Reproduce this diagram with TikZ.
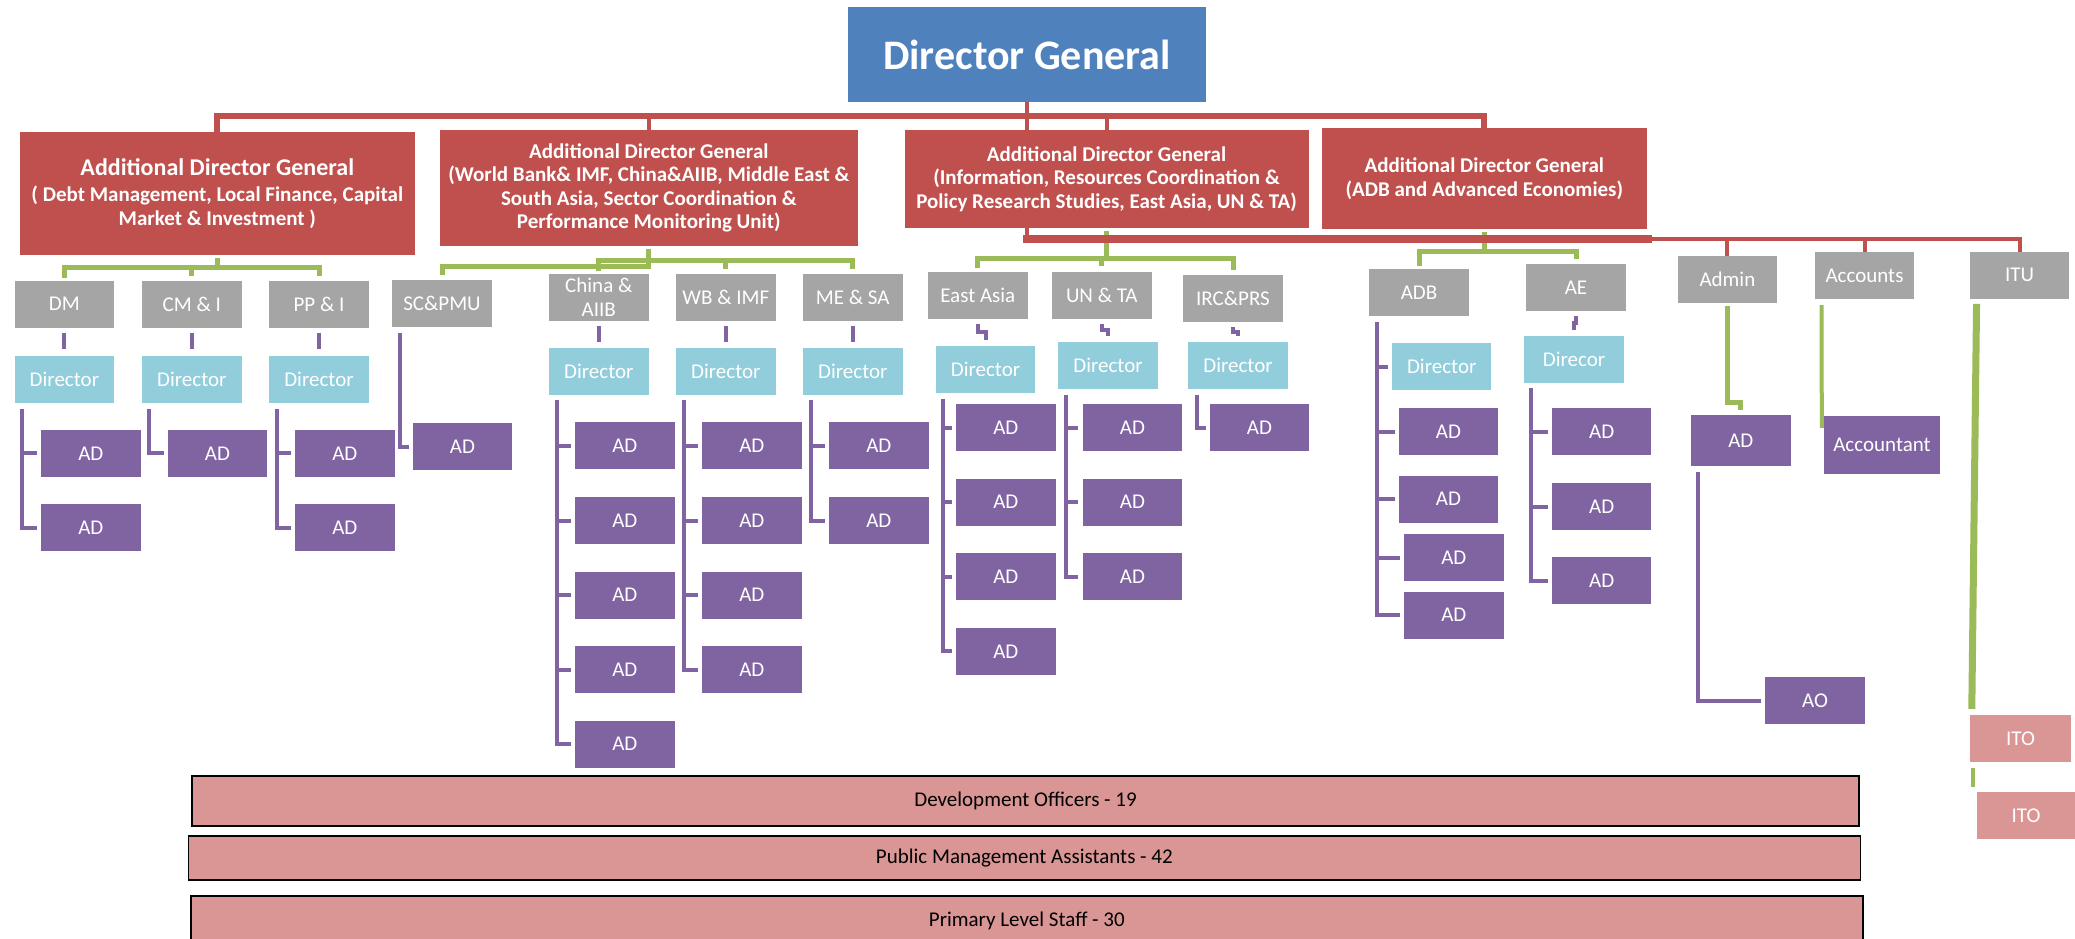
\documentclass[tikz,border=0pt]{standalone}
\usepackage{fontspec}
\setmainfont{Carlito}
\usetikzlibrary{calc,backgrounds}
\definecolor{dgblue}{HTML}{4F81BD}
\definecolor{adgred}{HTML}{C0504D}
\definecolor{ugray}{HTML}{A5A5A5}
\definecolor{dirblue}{HTML}{92CDDC}
\definecolor{adpurple}{HTML}{8064A2}
\definecolor{lgreen}{HTML}{9BBB59}
\definecolor{pinkred}{HTML}{D99694}
\newcommand\bracketdraw[4]{%
  \coordinate (tmpb) at ($(#1.south west)+(#2)$);
  \draw[pl, shorten >=4pt] (tmpb) |- (#4.west);
  \foreach \kid in {#3}{\draw[pl, shorten >=4pt] (tmpb |- \kid.west) -- (\kid.west);}
}
\begin{document}
\begin{tikzpicture}[x=1pt,y=-1pt,
  box/.style={rectangle, inner sep=0pt, minimum width=99.5pt, minimum height=47pt, text=white, font=\fontsize{21}{23.5}\selectfont, align=center},
  unitbox/.style={box, fill=ugray},
  dirbox/.style={box, fill=dirblue},
  adbox/.style={box, fill=adpurple},
  itobox/.style={box, fill=pinkred},
  adgbox/.style={rectangle, inner sep=0pt, fill=adgred, text=white, font=\fontsize{21}{23.5}\selectfont\bfseries, align=center},
  barbox/.style={rectangle, inner sep=0pt, fill=pinkred, draw=black, line width=1.5pt, text=black, font=\fontsize{21}{24}\selectfont},
  pl/.style={draw=adpurple, line width=4pt},
  pv/.style={pl, shorten <=5pt, shorten >=6pt},
  gl/.style={draw=lgreen, line width=5pt, shorten <=3pt, shorten >=5pt},
  rl/.style={draw=adgred, line width=4pt},
]
\useasboundingbox (0,0) rectangle (2075,938);

% ---- top
\node[fill=dgblue, inner sep=0pt, minimum width=358pt, minimum height=95pt, text=white, font=\fontsize{42}{50}\selectfont\bfseries] (DG) at (1027,54.5) {Director General};

\node[adgbox, minimum width=394.5pt, minimum height=123pt] (ADG1) at (217.3,193.5) {{\fontsize{24}{27}\selectfont Additional Director General}\\[3pt]( Debt Management, Local Finance, Capital\\Market \& Investment )};
\node[adgbox, minimum width=417.5pt, minimum height=116pt] (ADG2) at (648.8,188) {Additional Director General\\(World Bank\& IMF, China\&AIIB, Middle East \&\\South Asia, Sector Coordination \&\\Performance Monitoring Unit)};
\node[adgbox, minimum width=404pt, minimum height=98pt] (ADG3) at (1106.5,179) {Additional Director General\\(Information, Resources Coordination \&\\Policy Research Studies, East Asia, UN \& TA)};
\node[adgbox, minimum width=324.5pt, minimum height=101pt] (ADG4) at (1484.3,178.5) {Additional Director General\\(ADB and Advanced Economies)};

% ---- units
\node[unitbox] (DM) at (64.4,304.2) {DM};
\node[unitbox] (CM) at (191.8,304.2) {CM \& I};
\node[unitbox] (PP) at (319,304.2) {PP \& I};
\node[unitbox] (SC) at (442,303.5) {SC\&PMU};
\node[unitbox] (CH) at (598.8,297.2) {China \&\\AIIB};
\node[unitbox] (WB) at (725.8,297.2) {WB \& IMF};
\node[unitbox] (ME) at (852.8,297.2) {ME \& SA};
\node[unitbox] (EA) at (977.8,295.1) {East Asia};
\node[unitbox] (UN) at (1101.8,295.1) {UN \& TA};
\node[unitbox] (IRC) at (1233,298.5) {IRC\&PRS};
\node[unitbox] (ADB) at (1419,292.4) {ADB};
\node[unitbox] (AE) at (1576,287.5) {AE};
\node[unitbox] (ADM) at (1727.4,279.2) {Admin};
\node[unitbox] (ACC) at (1864.5,275.5) {Accounts};
\node[unitbox] (ITU) at (2019.5,275.2) {ITU};

% ---- directors
\node[dirbox] (DMD) at (64.4,379) {Director};
\node[dirbox] (CMD) at (191.8,379) {Director};
\node[dirbox] (PPD) at (319,379) {Director};
\node[dirbox] (CHD) at (598.8,371.4) {Director};
\node[dirbox] (WBD) at (725.8,371.4) {Director};
\node[dirbox] (MED) at (852.8,371.4) {Director};
\node[dirbox] (EAD) at (985.5,369.5) {Director};
\node[dirbox] (UND) at (1108,365.2) {Director};
\node[dirbox] (IRCD) at (1238,365.2) {Director};
\node[dirbox] (ADBD) at (1441.7,366.8) {Director};
\node[dirbox] (AED) at (1574,359.2) {Direcor};

% ---- ADs
\node[adbox] (DMA1) at (90.8,453.3) {AD};
\node[adbox] (DMA2) at (90.8,527.5) {AD};
\node[adbox] (CMA1) at (217.5,453.3) {AD};
\node[adbox] (PPA1) at (344.8,453.3) {AD};
\node[adbox] (PPA2) at (344.8,527.5) {AD};
\node[adbox] (SCA1) at (462.5,446.5) {AD};
\node[adbox] (CHA1) at (624.8,445.9) {AD};
\node[adbox] (CHA2) at (624.8,520.6) {AD};
\node[adbox] (CHA3) at (624.8,595.2) {AD};
\node[adbox] (CHA4) at (624.8,669.6) {AD};
\node[adbox] (CHA5) at (624.8,744.1) {AD};
\node[adbox] (WBA1) at (751.8,445.9) {AD};
\node[adbox] (WBA2) at (751.8,520.6) {AD};
\node[adbox] (WBA3) at (751.8,595.2) {AD};
\node[adbox] (WBA4) at (751.8,669.6) {AD};
\node[adbox] (MEA1) at (878.8,445.9) {AD};
\node[adbox] (MEA2) at (878.8,520.6) {AD};
\node[adbox] (EAA1) at (1005.8,427.8) {AD};
\node[adbox] (EAA2) at (1005.8,502.2) {AD};
\node[adbox] (EAA3) at (1005.8,576.7) {AD};
\node[adbox] (EAA4) at (1005.8,651.3) {AD};
\node[adbox] (UNA1) at (1132.4,427.8) {AD};
\node[adbox] (UNA2) at (1132.4,502.2) {AD};
\node[adbox] (UNA3) at (1132.4,576.7) {AD};
\node[adbox] (IRCA1) at (1259.5,427.8) {AD};
\node[adbox] (ADBA1) at (1448.5,431.8) {AD};
\node[adbox] (ADBA2) at (1448.5,499.2) {AD};
\node[adbox] (ADBA3) at (1453.8,557.5) {AD};
\node[adbox] (ADBA4) at (1453.8,615.2) {AD};
\node[adbox] (AEA1) at (1601.7,431.8) {AD};
\node[adbox] (AEA2) at (1601.7,506.5) {AD};
\node[adbox] (AEA3) at (1601.7,580.5) {AD};
\node[adbox, minimum height=51pt] (ADMA) at (1740.8,440.3) {AD};
\node[adbox] (AO) at (1815,700.5) {AO};
\node[adbox, minimum width=116pt, minimum height=58pt] (ACCT) at (1882,445) {Accountant};
\node[itobox, minimum width=101pt] (ITO1) at (2020.5,738.5) {ITO};
\node[itobox, minimum width=98pt] (ITO2) at (2026,815.4) {ITO};

% ---- bottom bars
\node[barbox, minimum width=1667pt, minimum height=50pt] (B1) at (1025.5,801) {Development Officers - 19};
\node[barbox, minimum width=1672pt, minimum height=44pt] (B2) at (1024.3,858) {Public Management Assistants - 42};
\node[barbox, minimum width=1672pt, minimum height=50pt] (B3) at (1026.8,921) {Primary Level Staff - 30};

\begin{pgfonlayer}{background}
\fill[white] (0,0) rectangle (2075,938);
% green
\coordinate (g1) at (0,267);
\draw[gl, shorten >=0pt] (ADG1.south) -- (ADG1.south |- g1);
\draw[gl] (DM.north) -- (DM.north |- g1) -- (PP.north |- g1) -- (PP.north);
\draw[gl, shorten <=0pt] (CM.north |- g1) -- (CM.north);
\coordinate (g2) at (0,260);
\coordinate (g2b) at (0,266);
\draw[gl] (ADG2.south) -- (ADG2.south |- g2b) -- (SC.north |- g2b) -- (SC.north);
\draw[gl] (CH.north) -- (CH.north |- g2) -- (ME.north |- g2) -- (ME.north);
\draw[gl, shorten <=0pt] (WB.north |- g2) -- (WB.north);
\coordinate (g3) at (0,258);
\draw[gl, shorten >=0pt] (ADG3.south) -- (ADG3.south |- g3);
\draw[gl] (EA.north) -- (EA.north |- g3) -- (IRC.north |- g3) -- (IRC.north);
\draw[gl, shorten <=0pt] (UN.north |- g3) -- (UN.north);
\coordinate (g4) at (0,251);
\draw[gl, shorten >=0pt] (ADG4.south) -- (ADG4.south |- g4);
\draw[gl] (ADB.north) -- (ADB.north |- g4) -- (AE.north |- g4) -- (AE.north);
\coordinate (g5) at (0,402);
\draw[gl] (ADM.south) -- (ADM.south |- g5) -| (ADMA.north);
\draw[gl, line width=4pt, shorten <=0pt, shorten >=0pt] ($(ACC.south west)+(7,6)$) -- ($(ACCT.north west)+(-2,12)$);
\draw[gl, line width=7pt, shorten <=0pt, shorten >=0pt] ($(ITU.south west)+(7,5)$) -- ($(ITO1.north west)+(2,-6)$);
\draw[gl, line width=4pt, shorten <=0pt, shorten >=0pt] ($(ITO1.south west)+(3,6)$) -- ($(ITO2.north west)+(-4,-5)$);
% red
\coordinate (bus1) at (0,116);
\coordinate (bus2) at (0,239);
\coordinate (b2end) at (1648,239);
\draw[rl] (DG.south) -- (DG.south |- bus2);
\draw[rl, line width=6pt] (ADG1.north) -- (ADG1.north |- bus1) -- (ADG4.north |- bus1) -- (ADG4.north);
\draw[rl] (ADG2.north) -- (ADG2.north |- bus1);
\draw[rl] (ADG3.north) -- (ADG3.north |- bus1);
\draw[rl, line width=8pt, line cap=rect] (DG.south |- bus2) -- (b2end);
\draw[rl] (b2end) -- (ITU.north |- bus2) -- (ITU.north);
\draw[rl] (ADM.north) -- (ADM.north |- bus2);
\draw[rl] (ACC.north) -- (ACC.north |- bus2);
% purple: unit to director
\draw[pv] (DM.south) -- (DMD.north);
\draw[pv] (CM.south) -- (CMD.north);
\draw[pv] (PP.south) -- (PPD.north);
\draw[pv] (CH.south) -- (CHD.north);
\draw[pv] (WB.south) -- (WBD.north);
\draw[pv] (ME.south) -- (MED.north);
\draw[pv] (EA.south) |- ($(EA.south)!.5!(EAD.north)$) -| (EAD.north);
\draw[pv] (UN.south) |- ($(UN.south)!.5!(UND.north)$) -| (UND.north);
\draw[pv] (IRC.south) |- ($(IRC.south)!.5!(IRCD.north)$) -| (IRCD.north);
\draw[pv] (AE.south) |- ($(AE.south)!.5!(AED.north)$) -| (AED.north);
% purple brackets
\bracketdraw{DMD}{8,6}{DMA1,DMA2}{DMA2}
\bracketdraw{CMD}{7.5,6}{CMA1}{CMA1}
\bracketdraw{PPD}{8,6}{PPA1,PPA2}{PPA2}
\bracketdraw{SC}{8,6}{SCA1}{SCA1}
\bracketdraw{CHD}{7.7,5}{CHA1,CHA2,CHA3,CHA4,CHA5}{CHA5}
\bracketdraw{WBD}{8,5}{WBA1,WBA2,WBA3,WBA4}{WBA4}
\bracketdraw{MED}{8,5}{MEA1,MEA2}{MEA2}
\bracketdraw{EAD}{7.5,6}{EAA1,EAA2,EAA3,EAA4}{EAA4}
\bracketdraw{UND}{8,6}{UNA1,UNA2,UNA3}{UNA3}
\bracketdraw{IRCD}{9,6}{IRCA1}{IRCA1}
\bracketdraw{ADB}{7.6,6}{ADBD,ADBA1,ADBA2,ADBA3,ADBA4}{ADBA4}
\bracketdraw{AED}{7,5}{AEA1,AEA2,AEA3}{AEA3}
\bracketdraw{ADMA}{7.5,6}{AO}{AO}
\end{pgfonlayer}
\end{tikzpicture}
\end{document}
